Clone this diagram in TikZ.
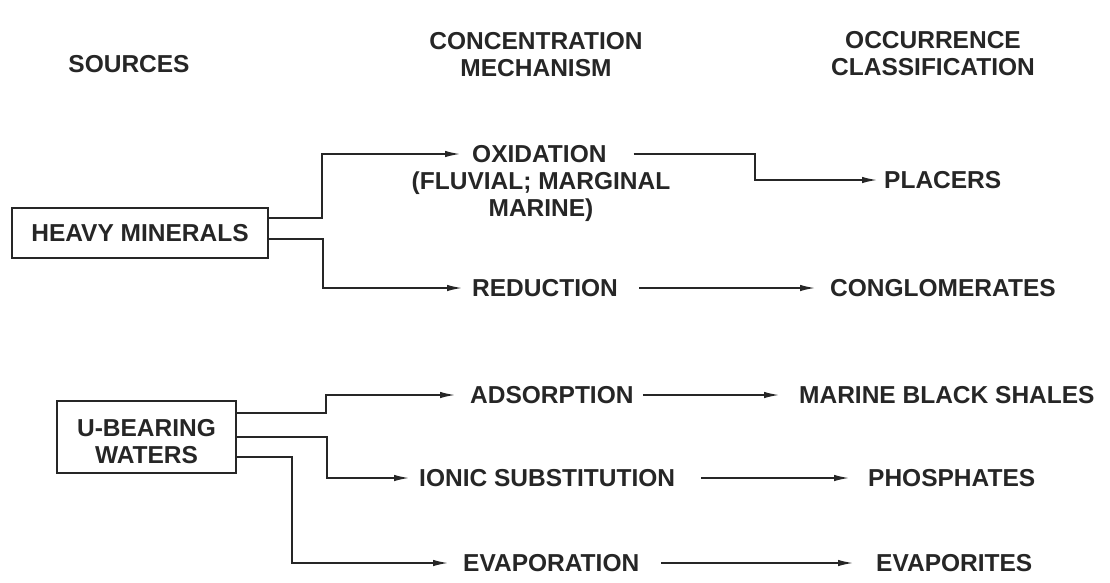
\documentclass[tikz,border=0pt]{standalone}
\usepackage{fontspec}
\setmainfont{Liberation Sans}
\usetikzlibrary{arrows.meta}
\begin{document}
\begin{tikzpicture}[x=1pt,y=-1pt,
  lbl/.style={font=\bfseries\fontsize{24.5}{27}\selectfont, inner sep=0pt, text=black!85},
  box/.style={lbl, draw=black!85, line width=1.5pt, align=center},
  arr/.style={draw=black!85, line width=1.4pt, -{Latex[length=15pt,width=6.5pt]}}]
\useasboundingbox (0,0) rectangle (1110,582);

% headers
\node[lbl] (src) at (129,64) {SOURCES};
\node[lbl, align=center] (cm) at (536,55) {CONCENTRATION\\MECHANISM};
\node[lbl, align=center] (oc) at (933,53.5) {OCCURRENCE\\CLASSIFICATION};

% sources
\node[box, minimum width=256pt, minimum height=50pt] (hm) at (140,233) {HEAVY MINERALS};
\node[box, minimum width=179pt, minimum height=72pt] (ubw) at (146.5,437) {\rule{0pt}{26pt}U-BEARING\\WATERS};

% mechanisms
\node[lbl, anchor=west] (oxid) at (472,154) {OXIDATION};
\node[lbl, align=center] (oxnote) at (541,197) {(FLUVIAL; MARGINAL\\MARINE)};
\node[lbl, anchor=west] (red) at (472,288) {REDUCTION};
\node[lbl, anchor=west] (ads) at (470,395) {ADSORPTION};
\node[lbl, anchor=west] (ion) at (419,478) {IONIC SUBSTITUTION};
\node[lbl, anchor=west] (evap) at (463,563) {EVAPORATION};

% classification
\node[lbl, anchor=west] (plac) at (884,180) {PLACERS};
\node[lbl, anchor=west] (cong) at (830,288) {CONGLOMERATES};
\node[lbl, anchor=west] (mbs) at (799,395) {MARINE BLACK SHALES};
\node[lbl, anchor=west] (phos) at (868,478) {PHOSPHATES};
\node[lbl, anchor=west] (evs) at (876,563) {EVAPORITES};

% connectors from sources
\draw[arr, shorten >=12pt] (hm.east |- 0,218) -- (322,218) |- (oxid.west);
\draw[arr, shorten >=10pt] (hm.east |- 0,239) -- (323,239) |- (red.west);
\draw[arr, shorten >=15pt] (ubw.east |- 0,413) -- (326,413) |- (ads.west);
\draw[arr, shorten >=10pt] (ubw.east |- 0,437) -- (327,437) |- (ion.west);
\draw[arr, shorten >=15pt] (ubw.east |- 0,457) -- (292,457) |- (evap.west);

% connectors to classification
\draw[arr, shorten <=27pt, shorten >=7pt] (oxid.east) -- (755,154) |- (plac.west);
\draw[arr, shorten <=21pt, shorten >=15pt] (red.east) -- (cong.west);
\draw[arr, shorten <=9pt, shorten >=20pt] (ads.east) -- (mbs.west);
\draw[arr, shorten <=26pt, shorten >=19pt] (ion.east) -- (phos.west);
\draw[arr, shorten <=22pt, shorten >=23pt] (evap.east) -- (evs.west);
\end{tikzpicture}
\end{document}
